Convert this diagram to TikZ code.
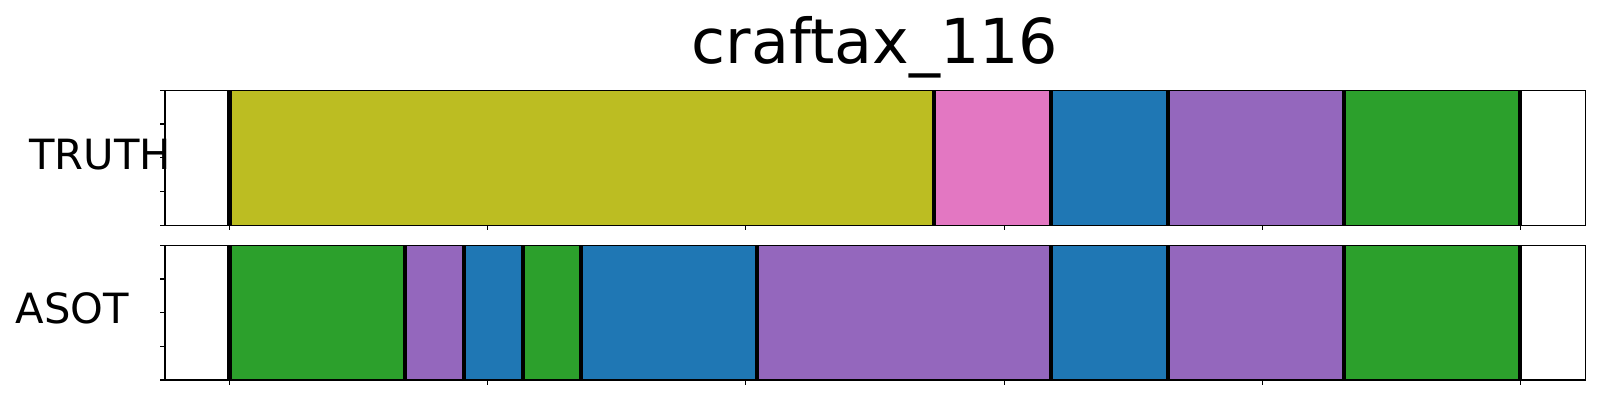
\documentclass[tikz,border=0pt]{standalone}
\usepackage{fontspec}
\setmainfont{DejaVu Sans}
\definecolor{tolive}{HTML}{BCBD22}
\definecolor{tpink}{HTML}{E377C2}
\definecolor{tblue}{HTML}{1F77B4}
\definecolor{tpurple}{HTML}{9467BD}
\definecolor{tgreen}{HTML}{2CA02C}
\tikzset{
  frame/.style={draw=black, line width=0.8pt},
  bound/.style={draw=black, line width=3pt},
  tickmark/.style={draw=black, line width=0.8pt},
  lbl/.style={inner sep=0pt, font=\fontsize{30}{36}\selectfont, anchor=base west},
  ttl/.style={inner sep=0pt, font=\fontsize{44.6}{52}\selectfont, anchor=base},
}
\newcommand{\px}[1]{229.5+2.582*(#1)}
\begin{document}
\begin{tikzpicture}[x=0.72pt, y=-0.72pt]
\useasboundingbox (0,0) rectangle (1600,400);
% title
\node[ttl] (title) at (875,63.3) {craftax\_116};
% row labels
\node[lbl] (truth) at (29,169.3) {TRUTH};
\node[lbl] (asot) at (15.7,323.3) {ASOT};
% TRUTH segments
\foreach \a/\b/\c in {0/272.8/tolive, 272.8/318.1/tpink, 318.1/363.5/tblue, 363.5/431.6/tpurple, 431.6/499.8/tgreen}{
  \fill[\c] ({\px{\a}},90.3) rectangle ({\px{\b}},225.3);
}
\foreach \t in {0,272.8,318.1,363.5,431.6,499.8}{
  \draw[bound] ({\px{\t}},90.3) -- ({\px{\t}},225.3);
}
% ASOT segments
\foreach \a/\b/\c in {0/68/tgreen, 68/90.8/tpurple, 90.8/113.7/tblue, 113.7/136.1/tgreen, 136.1/204.3/tblue, 204.3/318.1/tpurple, 318.1/363.5/tblue, 363.5/431.6/tpurple, 431.6/499.8/tgreen}{
  \fill[\c] ({\px{\a}},245.3) rectangle ({\px{\b}},380);
}
\foreach \t in {0,68,90.8,113.7,136.1,204.3,318.1,363.5,431.6,499.8}{
  \draw[bound] ({\px{\t}},245.3) -- ({\px{\t}},380);
}
% frames
\draw[frame] (165,90.3) rectangle (1585.5,225.3);
\draw[frame] (165,245.3) rectangle (1585.5,380);
% ticks
\foreach \k in {0,1,2,3,4}{
  \draw[tickmark] (165,{90.3+\k*33.75}) -- (160.1,{90.3+\k*33.75});
  \draw[tickmark] (165,{245.3+\k*33.675}) -- (160.1,{245.3+\k*33.675});
}
\foreach \k in {0,100,200,300,400,500}{
  \draw[tickmark] ({\px{\k}},225.3) -- ({\px{\k}},230.2);
  \draw[tickmark] ({\px{\k}},380) -- ({\px{\k}},384.9);
}
\end{tikzpicture}
\end{document}
